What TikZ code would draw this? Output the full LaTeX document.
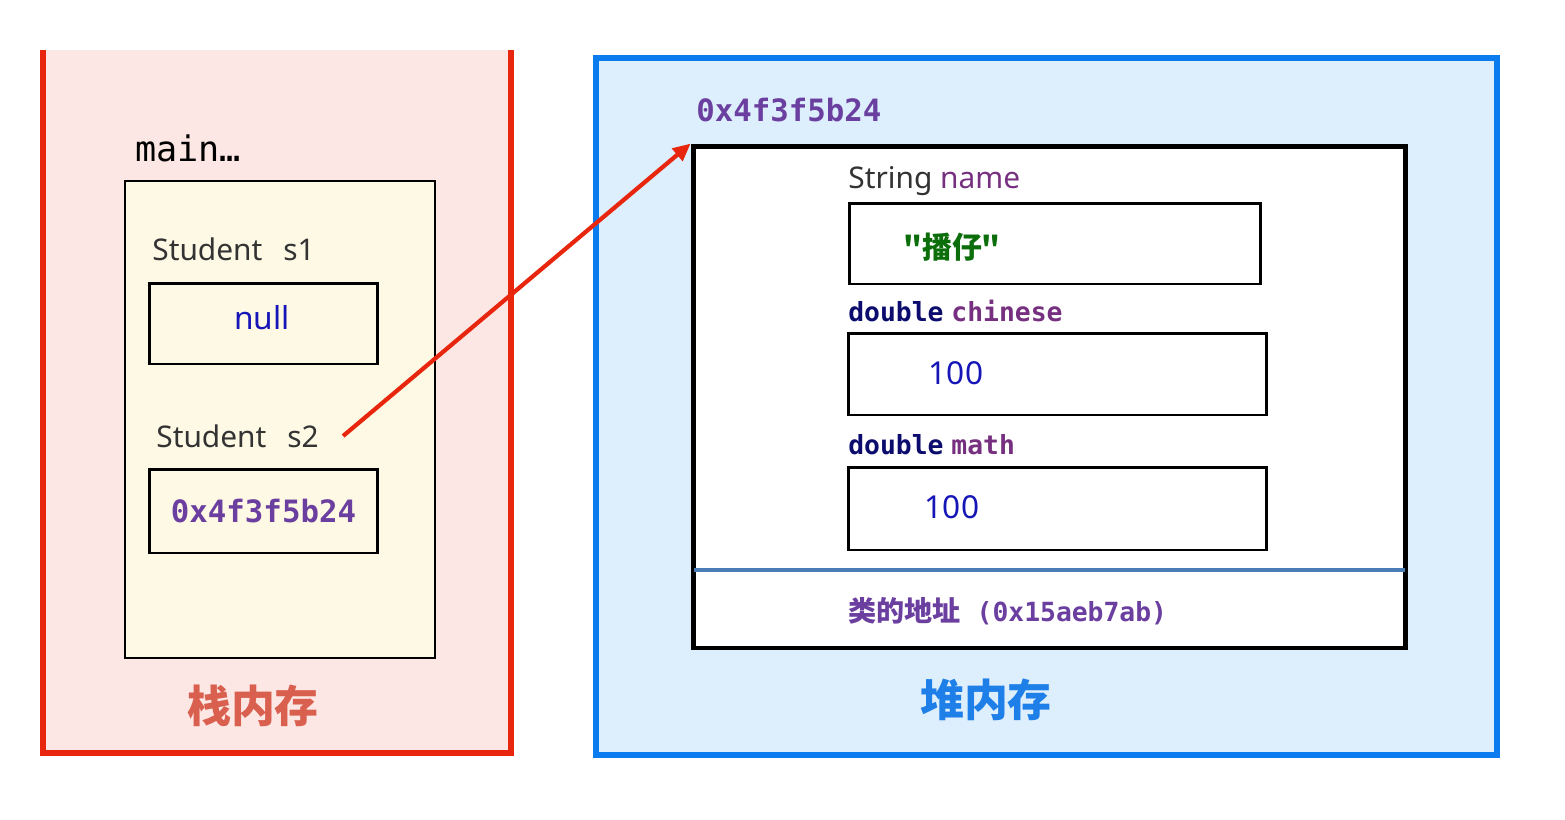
\documentclass[tikz,border=0pt]{standalone}
\usepackage{fontspec}
\setmainfont{Noto Sans}
\setmonofont{DejaVu Sans Mono}
\newfontfamily\cjk{Noto Sans CJK SC}
\usetikzlibrary{arrows.meta}

\definecolor{stackfill}{HTML}{FDE7E4}
\definecolor{stackred}{HTML}{E8260E}
\definecolor{framefill}{HTML}{FEF9E4}
\definecolor{stacktitle}{HTML}{D9604F}
\definecolor{heapfill}{HTML}{DDEEFC}
\definecolor{heapblue}{HTML}{0B7CF0}
\definecolor{heaptitle}{HTML}{1E7FE8}
\definecolor{addrpurple}{HTML}{6B3FA0}
\definecolor{fieldpurple}{HTML}{76307F}
\definecolor{typenavy}{HTML}{0C0C6E}
\definecolor{valblue}{HTML}{1616B8}
\definecolor{valgreen}{HTML}{0B6E0B}
\definecolor{sepblue}{HTML}{4A7CB5}
\definecolor{typegray}{HTML}{333333}

\begin{document}
\begin{tikzpicture}[x=0.02cm, y=-0.02cm,
    label/.style={anchor=west, inner sep=0pt, text=typegray, font=\fontsize{17}{20}\selectfont},
    codelabel/.style={anchor=west, inner sep=0pt, font=\ttfamily\bfseries\fontsize{15}{18}\selectfont},
    cell/.style={draw=black, line width=1.7pt, inner sep=0pt},
    addr/.style={text=addrpurple, font=\ttfamily\bfseries\fontsize{17.5}{20}\selectfont},
    value/.style={text=valblue, font=\fontsize{18}{21}\selectfont},
    title/.style={font=\cjk\bfseries\fontsize{25}{28}\selectfont},
    ref/.style={stackred, line width=2.4pt, -{Triangle[length=10pt,width=9pt]}}]
    \useasboundingbox (0,0) rectangle (1565,819);

    % Stack
    \fill[stackfill] (43,50) rectangle (511,753);
    \draw[stackred, line width=3.4pt] (43,50) -- (43,753) -- (511,753) -- (511,50);
    \node[anchor=west, inner sep=0pt, font=\ttfamily\fontsize{20}{23}\selectfont] (main) at (135,148) {main…};
    \node[draw=black, fill=framefill, line width=1.1pt, minimum width=6.2cm, minimum height=9.54cm] (frame) at (280,419.5) {};
    \node[label] (lblsA) at (152,249) {Student\hspace{0.7em}s1};
    \node[cell, minimum width=4.58cm, minimum height=1.62cm] (nullbox) at (263.5,323.5) {};
    \node[value] (nullval) at (262,318) {null};
    \node[label] (lblsB) at (156,436) {Student\hspace{0.7em}s2};
    \node[cell, minimum width=4.58cm, minimum height=1.68cm, addr] (addrbox) at (263.5,511) {0x4f3f5b24};
    \node[title, text=stacktitle] (stacklbl) at (253,706) {栈内存};

    % Heap
    \draw[heapblue, fill=heapfill, line width=3.4pt] (596,58) rectangle (1497,755);
    \node[addr, anchor=west, inner sep=0pt] (objaddr) at (696,110) {0x4f3f5b24};
    \node[draw=black, fill=white, line width=2.8pt, minimum width=14.26cm, minimum height=10.04cm] (obj) at (1049.5,397) {};

    \node[label] (lblname) at (848,181) {String \textcolor{fieldpurple}{name}};
    \node[cell, minimum width=8.24cm, minimum height=1.62cm] (namebox) at (1055,243.5) {};
    \node[text=valgreen, font=\cjk\bfseries\fontsize{17}{20}\selectfont] (nameval) at (952,247) {"播仔"};

    \node[codelabel] (lblchinese) at (848,311) {\textcolor{typenavy}{double}\hspace{0.3em}\textcolor{fieldpurple}{chinese}};
    \node[cell, minimum width=8.38cm, minimum height=1.64cm] (chinesebox) at (1057.5,374) {};
    \node[value] (chineseval) at (956,373) {100};

    \node[codelabel] (lblmath) at (848,445) {\textcolor{typenavy}{double}\hspace{0.3em}\textcolor{fieldpurple}{math}};
    \node[cell, minimum width=8.38cm, minimum height=1.66cm] (mathbox) at (1057.5,508.5) {};
    \node[value] (mathval) at (952,507) {100};

    \draw[sepblue, line width=2.3pt] (694,570) -- (1405,570);
    \node[codelabel, text=addrpurple] (classaddr) at (848,611) {{\cjk\fontsize{16}{18}\selectfont 类的地址} (0x15aeb7ab)};
    \node[title, text=heaptitle] (heaplbl) at (986,700) {堆内存};

    % Reference
    \draw[ref] ([xshift=0.48cm]lblsB.east) -- (obj.north west);
\end{tikzpicture}
\end{document}
